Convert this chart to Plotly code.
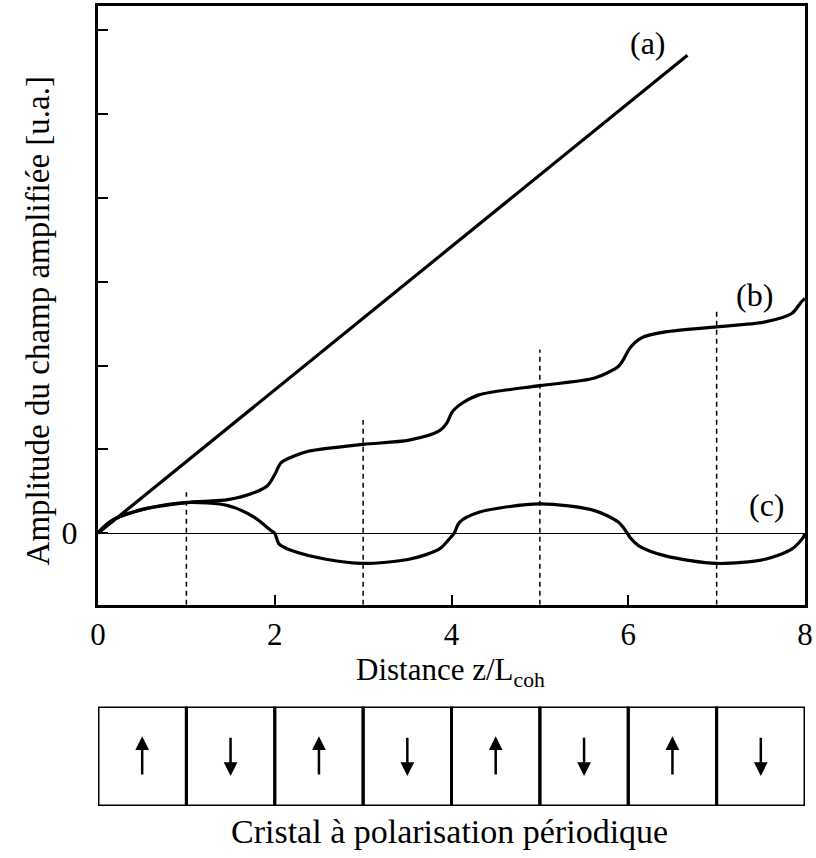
import plotly.graph_objects as go

# ---------------- data ----------------
# (a) phase-matched growth (straight line)
a_x = [0.0, 6.67]
a_y = [0.0, 5.70]

# (b) quasi-phase-matched growth
b_x = [0.0, 0.05, 0.19, 0.53, 1.0, 1.47, 1.77, 1.92, 2.0, 2.07, 2.22, 2.39, 3.0, 3.52,
       3.86, 3.95, 4.01, 4.12, 4.31, 5.0, 5.62, 5.89, 5.95, 6.02, 6.15, 6.42, 7.0, 7.55,
       7.85, 7.96, 8.0]
b_y = [0.0, 0.06, 0.17, 0.29, 0.366, 0.40, 0.485, 0.57, 0.70, 0.84, 0.92, 0.98, 1.06, 1.11,
       1.22, 1.32, 1.45, 1.55, 1.65, 1.76, 1.85, 1.99, 2.08, 2.21, 2.33, 2.40, 2.46, 2.52,
       2.62, 2.76, 2.80]

# (c) non phase-matched oscillation
c_x = [0.0, 0.05, 0.19, 0.53, 1.0, 1.47, 1.77, 1.96, 2.0, 2.05, 2.2, 2.58, 3.0, 3.52,
       3.86, 3.99, 4.03, 4.09, 4.31, 5.0, 5.62, 5.89, 5.99, 6.02, 6.12, 6.42, 7.0, 7.55,
       7.85, 7.98, 8.0]
c_y = [0.0, 0.06, 0.17, 0.29, 0.366, 0.33, 0.19, 0.03, 0.0, -0.13, -0.21, -0.31, -0.36, -0.31,
       -0.19, -0.05, 0.0, 0.13, 0.25, 0.35, 0.27, 0.13, 0.0, -0.05, -0.15, -0.27, -0.36, -0.31,
       -0.19, -0.05, 0.0]

# dashed markers at odd coherence lengths (x, top value)
dash_x = [1, 3, 5, 7]
dash_top = [0.49, 1.35, 2.19, 2.66]

# axis ticks
x_ticks = [0, 2, 4, 6, 8]
x_ticktext = ["0", "2", "4", "6", "8"]
y_ticks = [0, 1, 2, 3, 4, 5, 6]
y_ticktext = ["0", "", "", "", "", "", ""]

# periodically poled crystal: orientation of each domain (+1 up, -1 down)
domains = [1, -1, 1, -1, 1, -1, 1, -1]

# curve labels
labels = ["(a)", "(b)", "(c)"]
label_x = [6.22, 7.43, 7.57]
label_y = [5.84, 2.84, 0.34]

Y_MIN, Y_MAX = -0.852, 6.286
FONT = "Liberation Serif"

fig = go.Figure()

# dashed verticals
dx, dy = [], []
for xv, top in zip(dash_x, dash_top):
    dx += [xv, xv, None]
    dy += [Y_MIN, top, None]
fig.add_trace(go.Scatter(x=dx, y=dy, mode="lines",
                         line=dict(color="black", width=1.5, dash="5px,4px"),
                         hoverinfo="skip", showlegend=False))

fig.add_trace(go.Scatter(x=a_x, y=a_y, mode="lines",
                         line=dict(color="black", width=3.2), showlegend=False))
fig.add_trace(go.Scatter(x=c_x, y=c_y, mode="lines",
                         line=dict(color="black", width=3.2, shape="spline", smoothing=0.8),
                         showlegend=False))
fig.add_trace(go.Scatter(x=b_x, y=b_y, mode="lines",
                         line=dict(color="black", width=3.2, shape="spline", smoothing=0.8),
                         showlegend=False))

# empty trace for the crystal panel axes
fig.add_trace(go.Scatter(x=[0, 8], y=[0, 1], xaxis="x2", yaxis="y2", mode="markers",
                         marker=dict(opacity=0), hoverinfo="skip", showlegend=False))

annotations = []
for t, lx, ly in zip(labels, label_x, label_y):
    annotations.append(dict(x=lx, y=ly, xref="x", yref="y", text=t, showarrow=False,
                            xanchor="center", yanchor="middle",
                            font=dict(family=FONT, size=32, color="black")))

shapes = []
for i, d in enumerate(domains):
    shapes.append(dict(type="rect", xref="x2", yref="y2", x0=i, x1=i + 1, y0=0, y1=1,
                       line=dict(color="black", width=3)))
    tip, tail = (0.70, 0.30) if d > 0 else (0.30, 0.70)
    annotations.append(dict(x=i + 0.5, y=tip, ax=i + 0.5, ay=tail,
                            xref="x2", yref="y2", axref="x2", ayref="y2",
                            text="", showarrow=True, arrowhead=2, arrowsize=1.1,
                            arrowwidth=2.5, arrowcolor="black", standoff=0))

annotations.append(dict(x=0.499, y=0.167, xref="paper", yref="paper",
                        xanchor="center", yanchor="middle",
                        text="Distance z/L<sub>coh</sub>", showarrow=False,
                        font=dict(family=FONT, size=31, color="black")))
annotations.append(dict(x=-0.0846, y=0.606, xref="paper", yref="paper", textangle=-90,
                        xanchor="center", yanchor="middle",
                        text="Amplitude du champ amplifiée [u.a.]", showarrow=False,
                        font=dict(family=FONT, size=33, color="black")))
annotations.append(dict(x=0.497, y=-0.0324, xref="paper", yref="paper",
                        xanchor="center", yanchor="middle",
                        text="Cristal à polarisation périodique", showarrow=False,
                        font=dict(family=FONT, size=34, color="black")))

fig.update_layout(
    width=816, height=858,
    margin=dict(l=98, r=9, t=3, b=52),
    paper_bgcolor="white", plot_bgcolor="white",
    font=dict(family=FONT, size=32, color="black"),
    xaxis=dict(domain=[0, 1], range=[0, 8], anchor="y",
               showline=True, linewidth=3, linecolor="black", mirror=True,
               ticks="inside", ticklen=10, tickwidth=1.5, tickcolor="black",
               tickvals=x_ticks, ticktext=x_ticktext,
               tickfont=dict(family=FONT, size=31, color="black"),
               showgrid=False, zeroline=False),
    yaxis=dict(domain=[0.2516, 1], range=[Y_MIN, Y_MAX], anchor="x",
               showline=True, linewidth=3, linecolor="black", mirror=True,
               ticks="inside", ticklen=10, tickwidth=1.5, tickcolor="black",
               tickvals=y_ticks, ticktext=y_ticktext, ticklabelstandoff=11,
               tickfont=dict(family=FONT, size=32, color="black"),
               showgrid=False, zeroline=True, zerolinewidth=1, zerolinecolor="black"),
    xaxis2=dict(domain=[0, 1], range=[0, 8], anchor="y2", visible=False),
    yaxis2=dict(domain=[0, 0.1245], range=[0, 1], anchor="x2", visible=False),
    shapes=shapes,
    annotations=annotations,
)

fig.write_html("out.html",
               config={"displayModeBar": False},
               post_script="document.body.style.margin='0';document.body.style.padding='0';")
